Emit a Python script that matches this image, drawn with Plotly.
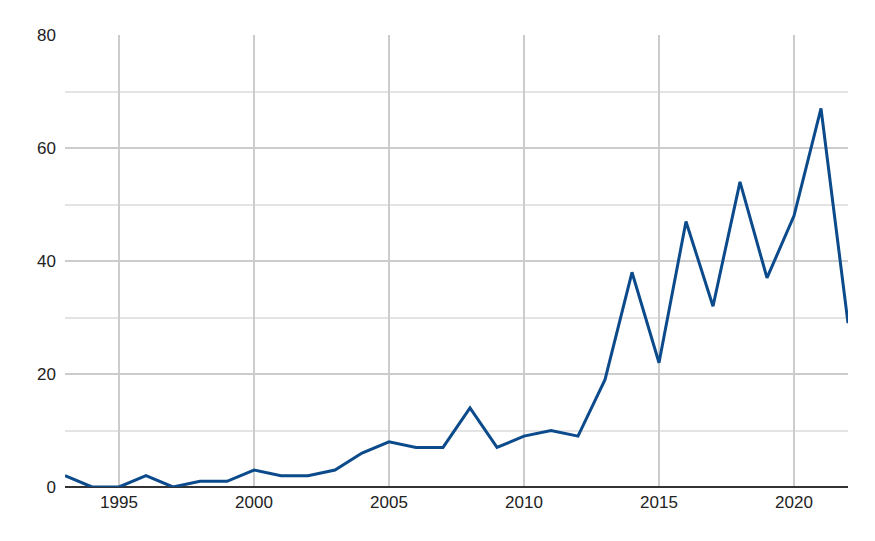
import plotly.graph_objects as go

years = list(range(1993, 2023))
counts = [2, 0, 0, 2, 0, 1, 1, 3, 2, 2, 3, 6, 8, 7, 7, 14, 7, 9, 10, 9,
          19, 38, 22, 47, 32, 54, 37, 48, 67, 29]
x_ticks = [1995, 2000, 2005, 2010, 2015, 2020]
y_ticks = [0, 20, 40, 60, 80]

fig = go.Figure()
fig.add_trace(go.Scatter(x=years, y=counts, mode="lines",
                         line=dict(color="#0b4a8b", width=3),
                         hoverinfo="x+y", showlegend=False))

fig.update_layout(
    width=867, height=533,
    margin=dict(l=57, r=27, t=27, b=54),
    paper_bgcolor="white", plot_bgcolor="white",
    font=dict(family="Liberation Sans, Arial, sans-serif", size=17, color="#222222"),
    xaxis=dict(range=[1993, 2022], tickvals=x_ticks, showgrid=True,
               gridcolor="#cccccc", gridwidth=1.5, zeroline=False,
               showline=False, ticks="", ticklabelstandoff=3),
    yaxis=dict(range=[0, 80], tickvals=y_ticks, showgrid=True,
               gridcolor="#cccccc", gridwidth=1.5, zeroline=True,
               zerolinecolor="#333333", zerolinewidth=1.5,
               showline=False, ticks="", ticklabelstandoff=8,
               minor=dict(tickvals=[10, 30, 50, 70], showgrid=True,
                          gridcolor="#e4e4e4", gridwidth=1.5)),
)

fig.write_html("out.html")
